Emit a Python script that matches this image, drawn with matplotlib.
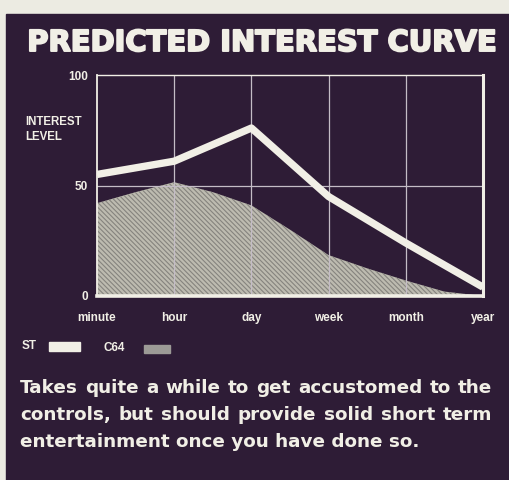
import matplotlib
matplotlib.use("Agg")
import matplotlib.pyplot as plt
import matplotlib.patheffects as pe
from matplotlib import font_manager
from matplotlib.patches import Rectangle

# interest level over time, per machine
periods = ["minute", "hour", "day", "week", "month", "year"]
st_level = [55, 61, 76, 45, 24, 4]
c64_pos = [0, 0.5, 1, 1.5, 2, 2.5, 3, 3.5, 4, 4.5, 5]
c64_level = [42, 47, 51.5, 47, 41, 30, 18.5, 12.5, 7, 2, 0]
y_ticks = [0, 50, 100]

title = "PREDICTED INTEREST CURVE"
blurb = ["Takes quite a while to get accustomed to the",
         "controls, but should provide solid short term",
         "entertainment once you have done so."]

W, H = 509, 480
bg = "#ecebe2"
panel = "#2e1c36"
ink = "#f1efe6"
grid = "#c4bcc6"

names = {f.name for f in font_manager.fontManager.ttflist}
narrow = next((n for n in ["Liberation Sans Narrow", "DejaVu Sans Condensed",
                           "Liberation Sans"] if n in names), "DejaVu Sans")

plt.rcParams["hatch.linewidth"] = 0.8


def fx(x):
    return x / W


def fy(y):
    return 1 - y / H


fig = plt.figure(figsize=(W / 100, H / 100), dpi=100, facecolor=bg)
fig.patches.append(Rectangle((fx(6), 0), 1, fy(14), transform=fig.transFigure,
                             color=panel, zorder=-5))

# --- chart ---
ax = fig.add_axes([fx(97), fy(296), fx(483) - fx(97), fy(75) - fy(296)])
ax.patch.set_alpha(0)
ax.set_xlim(0, 5)
ax.set_ylim(0, 100)

ax.fill_between(c64_pos, c64_level, 0, facecolor="#bdbbb0", edgecolor="#85837e",
                hatch="\\\\\\\\\\\\\\", linewidth=0, zorder=1)
ax.vlines(range(1, 5), 0, 100, color=grid, lw=0.9, zorder=2)
ax.axhline(50, color=grid, lw=0.9, zorder=2)
ax.plot(range(len(periods)), st_level, color=ink, lw=5.3,
        solid_capstyle="butt", zorder=3)

for side, lw in [("left", 1.3), ("top", 1.0), ("right", 2.2), ("bottom", 2.6)]:
    ax.spines[side].set_color(ink)
    ax.spines[side].set_linewidth(lw)

ax.set_xticks(range(len(periods)), periods)
ax.set_yticks(y_ticks, [str(v) for v in y_ticks])
ax.tick_params(length=0, colors=ink, labelsize=8.5)
ax.tick_params(axis="x", pad=11.5)
ax.tick_params(axis="y", pad=6.5)
for lab in ax.get_xticklabels() + ax.get_yticklabels():
    lab.set_fontweight("bold")
    lab.set_family(narrow)

fig.text(fx(25), fy(116), "INTEREST\nLEVEL", color=ink, fontsize=8.3, fontweight="bold",
         family=narrow, va="top", ha="left", linespacing=1.3)

# --- legend ---
fig.text(fx(22), fy(346), "ST", color=ink, fontsize=8.5, fontweight="bold",
         family=narrow, va="center")
fig.patches.append(Rectangle((fx(49), fy(351)), fx(31), 9 / H,
                             transform=fig.transFigure, color=ink))
fig.text(fx(104), fy(348), "C64", color=ink, fontsize=8.5, fontweight="bold",
         family=narrow, va="center")
fig.patches.append(Rectangle((fx(144), fy(353)), fx(26), 8 / H,
                             transform=fig.transFigure, color="#9c9a96"))

# --- title, stretched across the panel ---
r = fig.canvas.get_renderer()
t = fig.text(fx(262), fy(43), title, color=ink, fontsize=20, fontweight="heavy",
             ha="center", va="center",
             path_effects=[pe.withStroke(linewidth=1.4, foreground=ink)])
t.set_fontsize(20 * 468 / t.get_window_extent(r).width)

# --- blurb: size set by the last (ragged) line, the others justified ---
last = fig.text(fx(20), fy(447), blurb[2], color=ink, fontsize=13, fontweight="bold",
                va="baseline")
body_size = 13 * 397 / last.get_window_extent(r).width
last.set_fontsize(body_size)


def justify(line, y, x0, x1):
    words = line.split()
    arts = [fig.text(0, fy(y), w, color=ink, fontsize=body_size, fontweight="bold",
                     va="baseline") for w in words]
    widths = [a.get_window_extent(r).width for a in arts]
    gap = (x1 - x0 - sum(widths)) / (len(words) - 1)
    x = x0
    for a, w in zip(arts, widths):
        a.set_x(fx(x))
        x += w + gap


justify(blurb[0], 393, 20, 492)
justify(blurb[1], 420, 20, 492)

fig.savefig("out.png", dpi=100, facecolor=bg)
